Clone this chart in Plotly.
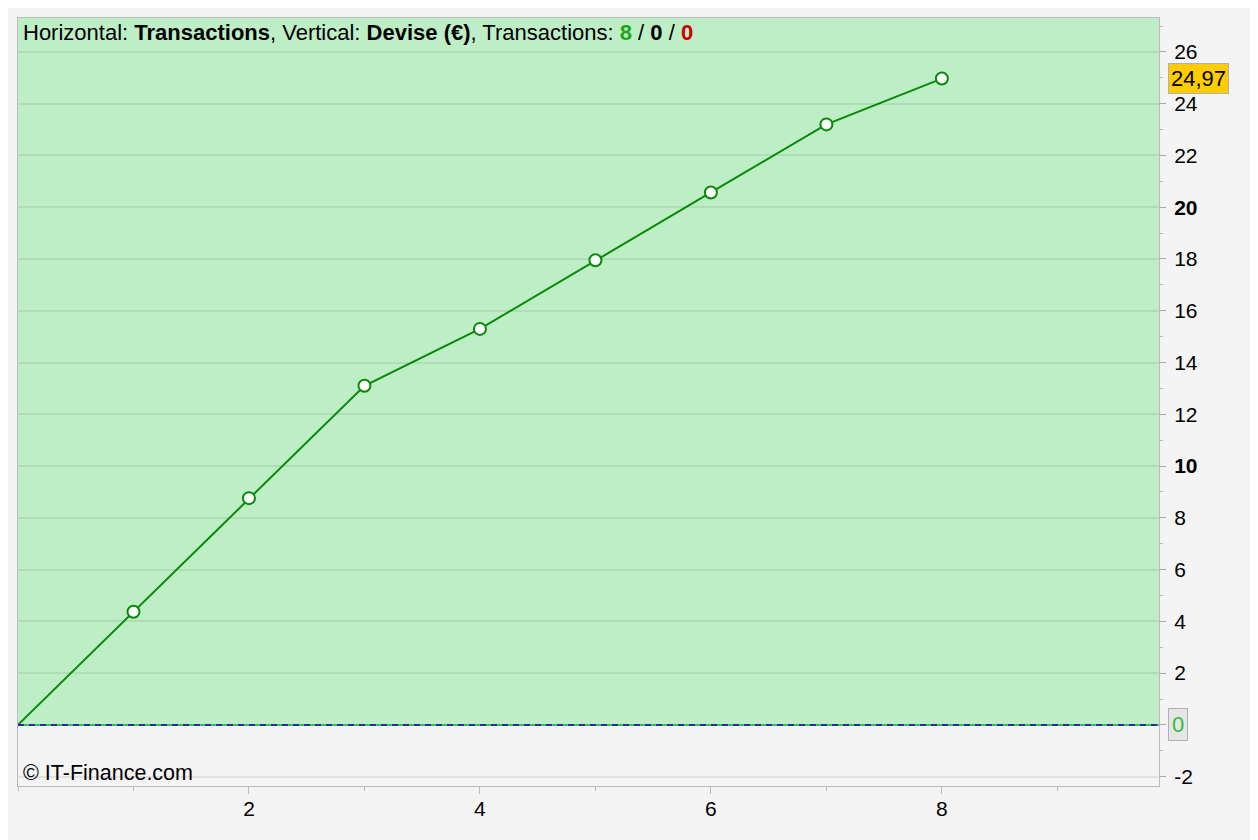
import plotly.graph_objects as go

# ---- data ----
transactions = [0, 1, 2, 3, 4, 5, 6, 7, 8]
equity = [0, 4.37, 8.76, 13.10, 15.30, 17.95, 20.57, 23.20, 24.97]
baseline = 0

y_tickvals = [-2, 0, 2, 4, 6, 8, 10, 12, 14, 16, 18, 20, 22, 24, 26]
y_ticktext = ["-2", "", "2", "4", "6", "8", "<b>10</b>", "12", "14", "16", "18",
              "<b>20</b>", "22", "24", "26"]
x_tickvals = [2, 4, 6, 8]
x_ticktext = ["2", "4", "6", "8"]

title_html = ("Horizontal: <b>Transactions</b>, Vertical: <b>Devise (€)</b>, "
              "Transactions: <b><span style='color:#1aa81a'>8</span></b> / <b>0</b> / "
              "<b><span style='color:#cc0000'>0</span></b>")
copyright_text = "© IT-Finance.com"

FONT = "Liberation Sans, Arial, sans-serif"
GREEN_BG = "#bdeec6"
PAGE_BG = "#f4f4f4"
LINE_GREEN = "#078a07"

yr = [-2.36, 27.31]
xr = [0, 9.88]

fig = go.Figure()

fig.add_trace(go.Scatter(
    x=transactions, y=equity, mode="lines",
    line=dict(color=LINE_GREEN, width=2),
    hoverinfo="skip", showlegend=False,
))
fig.add_trace(go.Scatter(
    x=transactions[1:], y=equity[1:], mode="markers",
    marker=dict(size=12, color="white", line=dict(color=LINE_GREEN, width=2)),
    showlegend=False,
))

# green area above baseline
fig.add_shape(type="rect", xref="paper", yref="y", x0=0, x1=1, y0=baseline, y1=yr[1],
              fillcolor=GREEN_BG, line=dict(width=0), layer="below")
# zero line: green with blue dashes
fig.add_shape(type="line", xref="paper", yref="y", x0=0, x1=1, y0=baseline, y1=baseline,
              line=dict(color="#33c055", width=2), layer="above")
fig.add_shape(type="line", xref="paper", yref="y", x0=0, x1=1, y0=baseline, y1=baseline,
              line=dict(color="#2a2aa8", width=2, dash="6px,5px"), layer="above")

last_label = f"{equity[-1]:.2f}".replace(".", ",")
fig.add_annotation(xref="paper", yref="y", x=1, y=equity[-1], xanchor="left", yanchor="middle",
                   xshift=9, text=last_label, showarrow=False,
                   font=dict(family=FONT, size=22, color="black"),
                   bgcolor="#ffcc00", bordercolor="#b0b0b0", borderwidth=1, borderpad=2)
fig.add_annotation(xref="paper", yref="y", x=1, y=baseline, xanchor="left", yanchor="middle",
                   xshift=9, text=str(baseline), showarrow=False,
                   font=dict(family=FONT, size=22, color="#2ec040"),
                   bgcolor="#e6e6e6", bordercolor="#b0b0b0", borderwidth=1, borderpad=3)
fig.add_annotation(xref="paper", yref="paper", x=0, y=1, xanchor="left", yanchor="top",
                   xshift=3, yshift=0, text=title_html, showarrow=False,
                   font=dict(family=FONT, size=22, color="black"))
fig.add_annotation(xref="paper", yref="paper", x=0, y=0, xanchor="left", yanchor="bottom",
                   xshift=3, yshift=-1, text=copyright_text, showarrow=False,
                   font=dict(family=FONT, size=21.5, color="black"))

fig.update_layout(
    width=1250, height=832,
    margin=dict(l=10, r=99, t=10, b=54),
    paper_bgcolor=PAGE_BG, plot_bgcolor=PAGE_BG,
    font=dict(family=FONT, size=21, color="black"),
    showlegend=False,
    xaxis=dict(range=xr, tickmode="array", tickvals=x_tickvals, ticktext=x_ticktext,
               ticks="outside", ticklen=7, tickcolor="#bbbbbb", tickwidth=1,
               showgrid=False, zeroline=False,
               showline=True, mirror=True, linecolor="#bbbbbb", linewidth=1,
               ticklabelstandoff=-3,
               minor=dict(tickmode="linear", tick0=0, dtick=1, ticks="outside", ticklen=4,
                          tickcolor="#bbbbbb", showgrid=False),
               tickfont=dict(size=21)),
    yaxis=dict(range=yr, side="right", tickmode="array", tickvals=y_tickvals, ticktext=y_ticktext,
               ticks="outside", ticklen=6, tickcolor="#aaaaaa", tickwidth=1,
               showgrid=True, gridcolor="rgba(0,0,0,0.07)", gridwidth=2, zeroline=False,
               showline=True, mirror=True, linecolor="#bbbbbb", linewidth=1,
               ticklabelstandoff=4,
               minor=dict(tickmode="linear", tick0=0, dtick=1, ticks="outside", ticklen=3,
                          tickcolor="#bbbbbb", showgrid=False),
               tickfont=dict(size=21)),
)

fig.write_html("out.html")
